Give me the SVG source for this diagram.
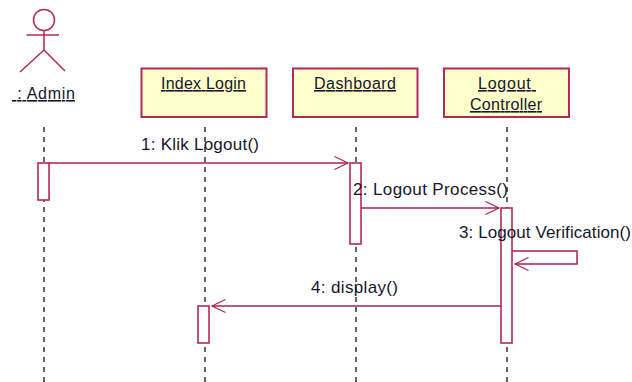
<svg xmlns="http://www.w3.org/2000/svg" width="632" height="382" viewBox="0 0 632 382">
<defs>
<marker id="open" markerUnits="userSpaceOnUse" markerWidth="16" markerHeight="16" refX="14" refY="8" orient="auto" viewBox="0 0 16 16"><path d="M0.500 1.500L14 8L0.500 14.500" fill="none" stroke="#a81e4e" stroke-width="1.100"/></marker>
</defs>
<style>
text{font-family:"Liberation Sans",Arial,sans-serif;font-size:16px;fill:#16162e}
.t{font-size:17px}
.n{fill:#ffffcb;stroke:#b32a58;stroke-width:2}
.a{fill:#fff;stroke:#b32a58;stroke-width:1.600}
.l{stroke:#333;stroke-width:1.500;stroke-dasharray:5 5;fill:none}
.m{stroke:#ab1f50;stroke-width:1.500;fill:none}
.u{text-decoration:underline}
</style>
<g id="lifelines">
<line class="l" x1="44" y1="127" x2="44" y2="382"/>
<line class="l" x1="205" y1="127" x2="205" y2="382"/>
<line class="l" x1="356" y1="127" x2="356" y2="382"/>
<line class="l" x1="507" y1="127" x2="507" y2="382"/>
</g>
<g id="admin">
<g fill="none" stroke="#b32a58" stroke-width="1.500">
<circle cx="44" cy="20" r="10.500"/>
<path d="M44 31V50M26.500 35H59M44 50L20 72M44 50L65 71"/>
</g>
<text class="u" x="12" y="99" xml:space="preserve" textLength="63" lengthAdjust="spacing"> : Admin</text>
</g>
<g id="index-login">
<rect class="n" x="141.500" y="68.500" width="125" height="48.500"/>
<text class="u" x="161" y="89" textLength="85" lengthAdjust="spacing">Index Login</text>
</g>
<g id="dashboard">
<rect class="n" x="293" y="68.500" width="124.500" height="48.500"/>
<text class="u" x="314" y="89" textLength="82" lengthAdjust="spacing">Dashboard</text>
</g>
<g id="logout-controller">
<rect class="n" x="444" y="68.500" width="125" height="48.500"/>
<text class="u" x="478" y="89" xml:space="preserve" textLength="58" lengthAdjust="spacing">Logout </text>
<text class="u" x="470" y="110" textLength="72" lengthAdjust="spacing">Controller</text>
</g>
<g id="activations">
<rect class="a" x="38" y="163" width="11" height="37"/>
<rect class="a" x="350" y="163" width="11" height="81"/>
<rect class="a" x="501" y="208" width="11" height="135"/>
<rect class="a" x="198" y="306" width="11" height="37"/>
</g>
<g id="connectors">
<line class="m" x1="49" y1="163" x2="348" y2="163" marker-end="url(#open)"/>
<line class="m" x1="361" y1="208" x2="499" y2="208" marker-end="url(#open)"/>
<path class="m" d="M512 251H577V264H515" marker-end="url(#open)"/>
<line class="m" x1="501" y1="306" x2="212" y2="306" marker-end="url(#open)"/>
</g>
<g id="labels">
<text class="t" x="141" y="150" textLength="118" lengthAdjust="spacing">1: Klik Logout()</text>
<text class="t" x="353" y="195" textLength="155" lengthAdjust="spacing">2: Logout Process()</text>
<text class="t" x="459" y="238" textLength="172" lengthAdjust="spacing">3: Logout Verification()</text>
<text class="t" x="311" y="293" textLength="87" lengthAdjust="spacing">4: display()</text>
</g>
</svg>
